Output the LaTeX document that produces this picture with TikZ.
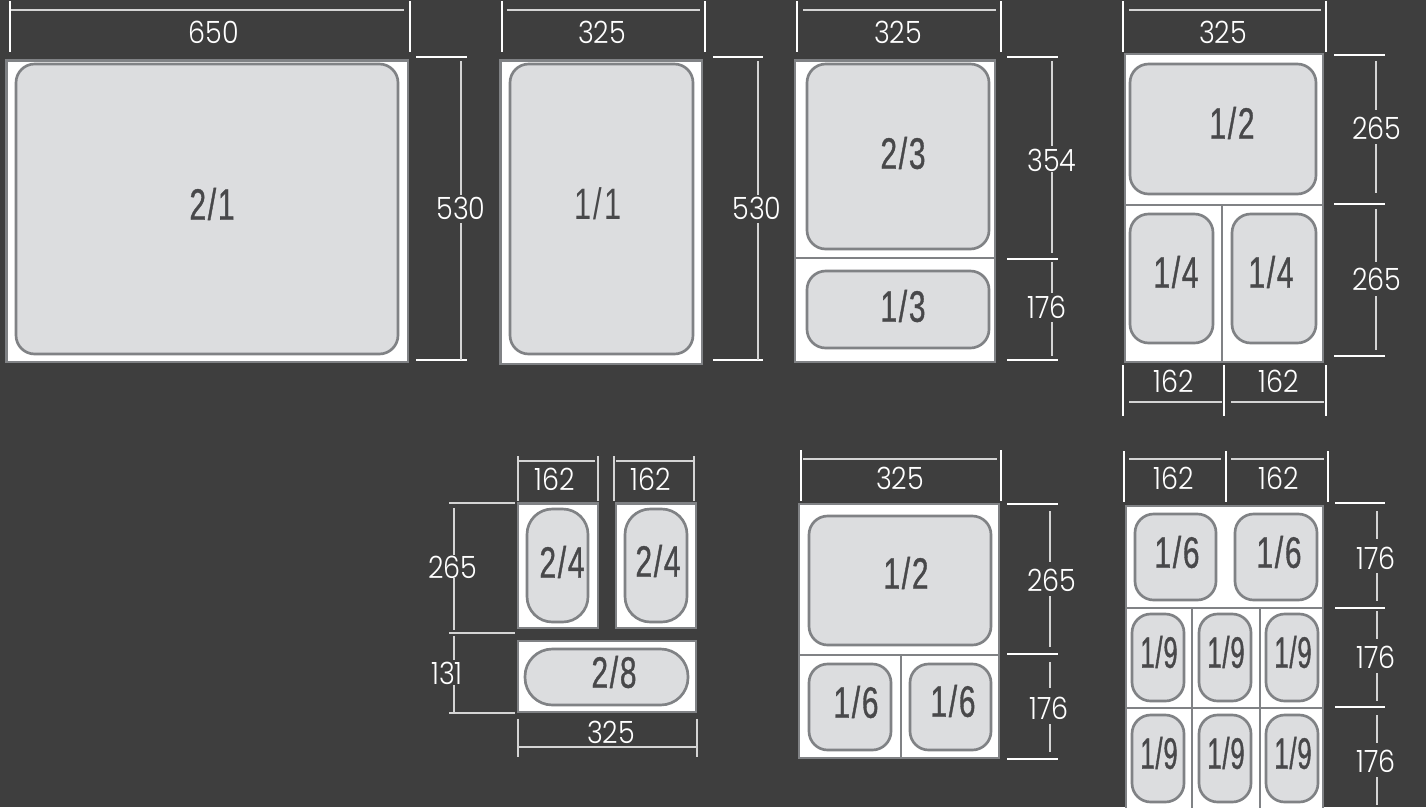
\documentclass[tikz,border=0pt]{standalone}
\usepackage{fontspec}
\setmainfont{Poppins Light}[FakeStretch=0.88]
\newfontfamily\fracfont[FakeStretch=0.68,FakeBold=0.8,LetterSpace=4]{Liberation Sans}
\newfontfamily\fracthin[FakeStretch=0.70,LetterSpace=4]{Liberation Sans}
\newfontfamily\fracnarrow[FakeStretch=0.58,FakeBold=0.8,LetterSpace=2]{Liberation Sans}
\definecolor{bgc}{HTML}{3E3E3E}
\definecolor{edgec}{HTML}{808285}
\definecolor{panc}{HTML}{DCDDDF}
\definecolor{txtc}{HTML}{48484A}
\definecolor{linec}{HTML}{D4D4D4}
\tikzset{
  x=0.75pt,y=-0.75pt,
  frameshape/.style={draw=edgec,line width=2.1pt,fill=white},
  divider/.style={draw=edgec,line width=2pt},
  panshape/.style={draw=edgec,line width=2pt,fill=panc},
  tick/.style={draw=white,line width=1.6pt},
  thintick/.style={draw=linec,line width=1.1pt},
  dimline/.style={draw=linec,line width=1.1pt},
  dimtext/.style={text=white,font=\fontsize{23}{25}\selectfont,inner sep=0pt},
  fractext/.style={text=txtc,font=\fontsize{33}{35}\fracfont,inner sep=0pt},
  fracthintext/.style={text=txtc,font=\fontsize{33}{35}\fracthin,inner sep=0pt},
  fracnarrowtext/.style={text=txtc,font=\fontsize{33}{35}\fracnarrow,inner sep=0pt},
}
\newcommand{\frm}[4]{\path[frameshape] (#1,#2) rectangle (#3,#4);}
\newcommand{\pan}[5]{\path[panshape,rounded corners=#5] (#1,#2) rectangle (#3,#4);}
\newcommand{\lab}[4]{\node[fractext] (#1) at (#2,#3) {#4};}
\newcommand{\labn}[4]{\node[fracnarrowtext] (#1) at (#2,#3) {#4};}
\newcommand{\dimn}[4]{\node[dimtext] (#1) at (#2,#3) {#4};}
\newcommand{\seg}[5][dimline]{\draw[#1] (#2,#3) -- (#4,#5);}
\begin{document}
\begin{tikzpicture}
\useasboundingbox (0,0) rectangle (1426,807);
\fill[bgc] (0,0) rectangle (1426,807);
\begin{scope}
\clip (0,0) rectangle (1426,807);

% ---- 2/1
\frm{6.5}{60.5}{408}{362}
\pan{16}{64}{398}{354}{14pt}
\lab{a1}{212}{204}{2/1}
\seg[tick]{10.3}{1}{10.3}{52}
\seg[tick]{410}{1}{410}{52}
\seg{11}{10}{404}{10}
\dimn{a2}{214}{32}{650}
\seg[tick]{416}{57}{467}{57}
\seg[tick]{416}{360}{467}{360}
\seg{461}{61}{461}{195}
\seg{461}{223}{461}{360}
\dimn{a3}{461}{208}{530}

% ---- 1/1
\frm{500.5}{60.5}{702}{364}
\pan{510}{64}{693}{354}{14pt}
\node[fracthintext] (b1) at (598,204) {1/1};
\seg[tick]{502}{1}{502}{52}
\seg[tick]{705}{1}{705}{52}
\seg{507}{10}{700}{10}
\dimn{b2}{602}{32}{325}
\seg[tick]{713}{57}{763}{57}
\seg[tick]{713}{360}{763}{360}
\seg{758}{61}{758}{195}
\seg{758}{223}{758}{360}
\dimn{b3}{757}{208}{530}

% ---- 2/3 + 1/3
\frm{795}{60.5}{995}{362}
\seg[divider]{795}{258}{995}{258}
\pan{807}{64}{989}{249}{14pt}
\pan{807}{271}{989}{348}{14pt}
\lab{c1}{903}{153}{2/3}
\lab{c2}{903}{306}{1/3}
\seg[tick]{797}{1}{797}{52}
\seg[tick]{1001}{1}{1001}{52}
\seg{803}{10}{996}{10}
\dimn{c3}{898}{32}{325}
\seg[tick]{1007}{57}{1058}{57}
\seg[tick]{1007}{259}{1058}{259}
\seg[tick]{1007}{360}{1058}{360}
\seg{1052}{61}{1052}{146}
\seg{1052}{172}{1052}{253}
\seg{1052}{262}{1052}{293}
\seg{1052}{322}{1052}{356}
\dimn{c4}{1052}{160}{354}
\dimn{c5}{1047}{307}{176}

% ---- 1/2 + 1/4 + 1/4
\frm{1125}{54}{1323}{362}
\seg[divider]{1125}{205}{1323}{205}
\seg[divider]{1222}{205}{1222}{362}
\pan{1130}{64}{1316}{194}{14pt}
\pan{1130}{214}{1213}{343}{14pt}
\pan{1232}{214}{1316}{343}{14pt}
\lab{d1}{1232}{123}{1/2}
\lab{d2}{1176}{272}{1/4}
\lab{d3}{1271}{272}{1/4}
\seg[tick]{1123}{1}{1123}{52}
\seg[tick]{1326}{1}{1326}{52}
\seg{1129}{10}{1321}{10}
\dimn{d4}{1223}{32}{325}
\seg[tick]{1123}{365}{1123}{416}
\seg[tick]{1224}{365}{1224}{416}
\seg[tick]{1326}{365}{1326}{416}
\seg{1129}{402}{1222}{402}
\seg{1231}{402}{1324}{402}
\dimn{d5}{1174}{381}{162}
\dimn{d6}{1279}{381}{162}
\seg[tick]{1334}{55}{1385}{55}
\seg[tick]{1334}{204}{1385}{204}
\seg[tick]{1334}{356}{1385}{356}
\seg{1376}{61}{1376}{110}
\seg{1376}{144}{1376}{193}
\seg{1376}{209}{1376}{262}
\seg{1376}{296}{1376}{350}
\dimn{d7}{1377}{128}{265}
\dimn{d8}{1377}{279}{265}

% ---- 2/4 2/4 2/8
\frm{518}{503.5}{598}{628}
\frm{616}{503.5}{696}{628}
\frm{518}{641}{696}{712}
\pan{527}{509}{588}{622}{19pt}
\pan{625}{509}{687}{622}{19pt}
\pan{525}{649}{688}{705}{20.5pt}
\lab{e1}{562}{562}{2/4}
\lab{e2}{658}{561}{2/4}
\lab{e3}{614}{672}{2/8}
\seg[thintick]{518}{456}{518}{501}
\seg[thintick]{598}{456}{598}{501}
\seg{518}{461}{595}{461}
\seg[thintick]{614}{456}{614}{501}
\seg[thintick]{694}{456}{694}{501}
\seg{616}{461}{694}{461}
\dimn{e4}{555}{479}{162}
\dimn{e5}{651}{479}{162}
\seg[thintick]{449}{503}{515}{503}
\seg[thintick]{449}{633}{515}{633}
\seg[thintick]{449}{713}{515}{713}
\seg{454}{508}{454}{555}
\seg{454}{578}{454}{630}
\seg{454}{636}{454}{660}
\seg{454}{685}{454}{713}
\dimn{e6}{453}{567}{265}
\dimn{e7}{447}{673}{131}
\seg[thintick]{518}{719}{518}{757}
\seg[thintick]{697}{719}{697}{757}
\seg{518}{747}{697}{747}
\dimn{e8}{611}{732}{325}

% ---- 1/2 + 1/6 + 1/6
\frm{799}{504}{999}{758}
\seg[divider]{799}{655}{999}{655}
\seg[divider]{901}{655}{901}{758}
\pan{809}{516}{991}{645}{14pt}
\pan{809}{664}{891}{750}{14pt}
\pan{910}{664}{991}{750}{14pt}
\lab{f1}{906}{573}{1/2}
\lab{f2}{856}{702}{1/6}
\lab{f3}{953}{701}{1/6}
\seg[tick]{801}{450}{801}{501}
\seg[tick]{1001}{450}{1001}{501}
\seg{803}{459}{997}{459}
\dimn{f4}{900}{478}{325}
\seg[tick]{1007}{504}{1058}{504}
\seg[tick]{1007}{654}{1058}{654}
\seg[tick]{1007}{759}{1058}{759}
\seg{1050}{511}{1050}{562}
\seg{1050}{596}{1050}{647}
\seg{1050}{662}{1050}{688}
\seg{1050}{724}{1050}{752}
\dimn{f5}{1052}{580}{265}
\dimn{f6}{1049}{708}{176}

% ---- 1/6 1/6 and 1/9 grid
\frm{1126}{506}{1323}{815}
\seg[divider]{1126}{608}{1323}{608}
\seg[divider]{1126}{708}{1323}{708}
\seg[divider]{1192}{608}{1192}{810}
\seg[divider]{1260}{608}{1260}{810}
\pan{1135}{514}{1216}{600}{14pt}
\pan{1235}{514}{1317}{600}{14pt}
\pan{1132}{614}{1184}{701}{14pt}
\pan{1199}{614}{1251}{701}{14pt}
\pan{1266}{614}{1318}{701}{14pt}
\pan{1132}{715}{1184}{802}{14pt}
\pan{1199}{715}{1251}{802}{14pt}
\pan{1266}{715}{1318}{802}{14pt}
\lab{g1}{1177}{552}{1/6}
\lab{g2}{1279}{552}{1/6}
\labn{g3}{1159}{652}{1/9}
\labn{g4}{1226}{652}{1/9}
\labn{g5}{1293}{652}{1/9}
\labn{g6}{1159}{753}{1/9}
\labn{g7}{1226}{753}{1/9}
\labn{g8}{1293}{753}{1/9}
\seg[tick]{1124}{451}{1124}{502}
\seg[tick]{1226}{451}{1226}{502}
\seg[tick]{1328}{451}{1328}{502}
\seg{1129}{459}{1221}{459}
\seg{1231}{459}{1324}{459}
\dimn{g9}{1174}{478}{162}
\dimn{g10}{1279}{478}{162}
\seg[tick]{1335}{503}{1385}{503}
\seg[tick]{1335}{608}{1385}{608}
\seg[tick]{1335}{707}{1385}{707}
\seg{1377}{511}{1377}{539}
\seg{1377}{573}{1377}{601}
\seg{1377}{611}{1377}{639}
\seg{1377}{673}{1377}{701}
\seg{1377}{715}{1377}{743}
\seg{1377}{777}{1377}{805}
\dimn{g11}{1376}{558}{176}
\dimn{g12}{1376}{657}{176}
\dimn{g13}{1376}{761}{176}
\end{scope}
\end{tikzpicture}
\end{document}
